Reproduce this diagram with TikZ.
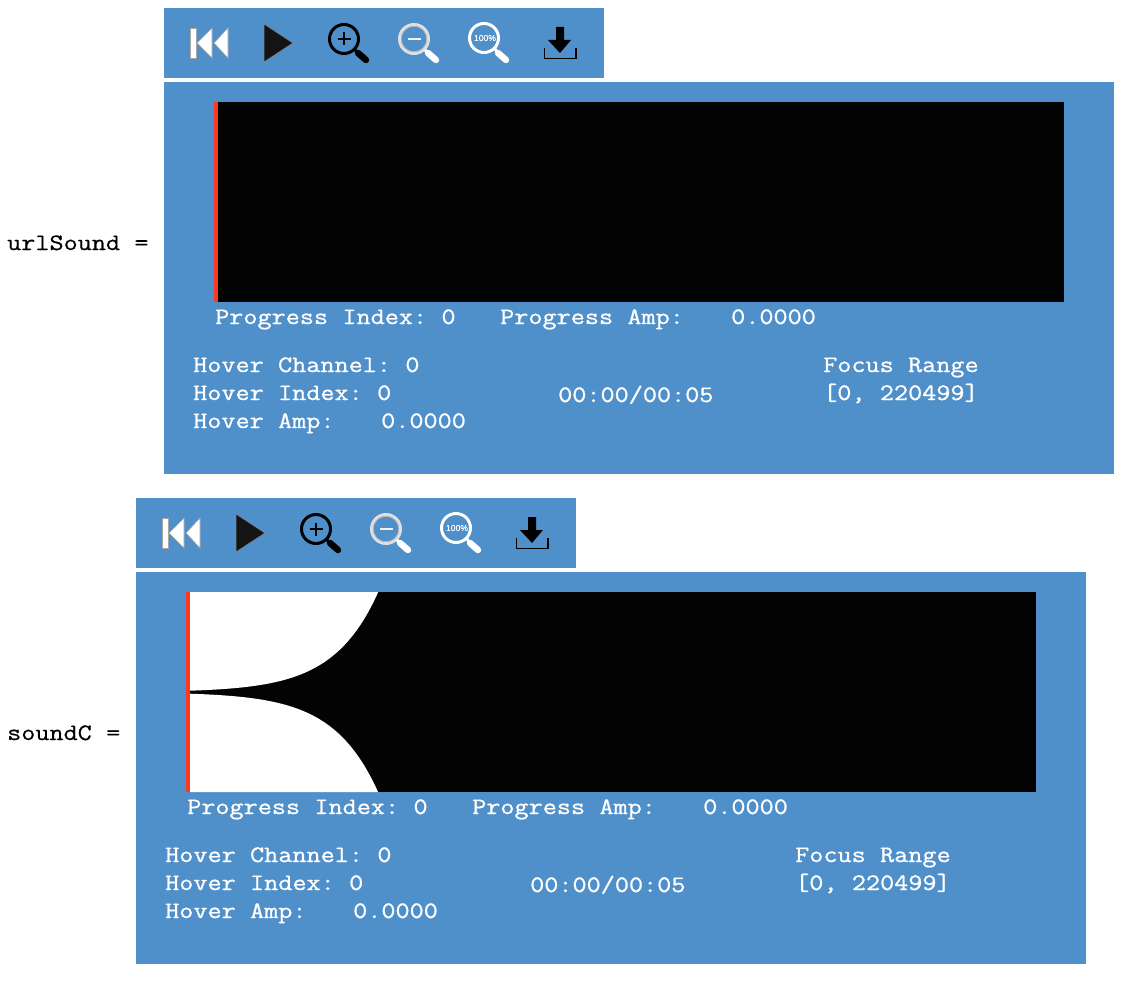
\documentclass[tikz,border=0pt]{standalone}
\usepackage{fontspec}
\definecolor{panelblue}{HTML}{4F8FCA}
\definecolor{scrubred}{HTML}{FA3A20}
\definecolor{wave}{HTML}{030303}
\newfontfamily\paneltext{Latin Modern Mono}[FakeBold=0.9]
\newfontfamily\labeltext{Latin Modern Mono}[FakeBold=0.5]
\newfontfamily\iconfont{Liberation Sans}[FakeBold=0.3]
\newcommand{\squash}[1]{\scalebox{1}[0.86]{\frenchspacing\spaceskip=14.38pt #1}}
\tikzset{
  panelbg/.style={fill=panelblue,draw=none},
  readout/.style={anchor=base west,inner sep=0pt,text=white,font=\paneltext\fontsize{27.4}{30}\selectfont},
  sidelabel/.style={anchor=base west,inner sep=0pt,text=black,font=\labeltext\fontsize{27.4}{30}\selectfont},
  whiteicon/.style={fill=white,draw=gray!70,line width=0.6pt},
  lens/.style={line width=3pt},
  handle/.style={line width=6.5pt,line cap=round},
}
\newcommand{\soundpanel}{%
  \fill[panelbg] (164,8) rectangle (604,78);
  \fill[panelbg] (164,82) rectangle (1114,474);
  % rewind
  \filldraw[whiteicon] (190,28) rectangle (196,58);
  \filldraw[whiteicon] (197,43) -- (212,28) -- (212,58) -- cycle;
  \filldraw[whiteicon] (214,43) -- (228,28) -- (228,58) -- cycle;
  % play
  \filldraw[fill=black!92,draw=gray!70!panelblue,line width=0.7pt] (264,24) -- (293,43) -- (264,62) -- cycle;
  % zoom in
  \draw[black,lens] (344,39) circle (14.5);
  \draw[black,line width=2.8pt] (337.5,39) -- (350.5,39) (344,32.5) -- (344,45.5);
  \draw[black,line width=3pt] (355,50) -- (358,53);
  \draw[black,handle] (358,53) -- (366,60);
  % zoom out
  \draw[gray!25,lens] (414,39) circle (14.5);
  \draw[gray!55,line width=0.8pt] (414,39) circle (12.8);
  \draw[white!90!gray,line width=2.8pt] (407.5,39) -- (420.5,39);
  \draw[white,line width=3pt] (425,50) -- (428,53);
  \draw[white,handle] (428,53) -- (436,60);
  % 100 percent
  \draw[white,lens] (484,38) circle (14.5);
  \node[inner sep=0pt,text=white,font=\iconfont\fontsize{8.6}{9}\selectfont] at (485,38) {100\%};
  \draw[white,line width=3pt] (495,49) -- (498,53);
  \draw[white,handle] (498,53) -- (506,60);
  % download
  \fill[black] (556,27) -- (564,27) -- (564,40) -- (571,40) -- (560,53) -- (548,40) -- (556,40) -- cycle;
  \draw[black,line width=1.8pt] (544.5,48) -- (544.5,58.5) -- (576,58.5) -- (576,48);
  % display
  \fill[wave] (214,102) rectangle (1064,302);
}
\newcommand{\soundtexts}[1]{%
  \node[readout] (#1pi) at (215,324) {\squash{Progress Index: 0}};
  \node[readout] (#1pa) at (500,324) {\squash{Progress Amp:}};
  \node[readout] (#1pv) at (731,324) {\squash{0.0000}};
  \node[readout] (#1hc) at (193,372) {\squash{Hover Channel: 0}};
  \node[readout] (#1hi) at (193,400) {\squash{Hover Index: 0}};
  \node[readout] (#1ha) at (193,428) {\squash{Hover Amp:}};
  \node[readout] (#1hv) at (381,428) {\squash{0.0000}};
  \node[readout] (#1tm) at (558,402) {\squash{00:00/00:05}};
  \node[readout] (#1fr) at (823,372) {\squash{Focus Range}};
  \node[readout] (#1fv) at (823,400) {\squash{[0, 220499]}};
}
\begin{document}
\begin{tikzpicture}[x=1pt,y=-1pt]
\useasboundingbox (0,0) rectangle (1134,982);
\fill[white] (0,0) rectangle (1134,982);
\node[sidelabel] (urllabel) at (7,250) {\squash{urlSound =}};
\node[sidelabel] (clabel) at (7,740) {\squash{soundC =}};
\begin{scope}
  \soundpanel
  \fill[scrubred] (214,102) rectangle (218,302);
  \soundtexts{a}
\end{scope}
\begin{scope}[shift={(-28,490)}]
  \soundpanel
  \fill[white] plot[domain=218:406,samples=80] (\x,{202.2-1.5*exp((\x-218)/44.8)}) -- (406,102) -- (218,102) -- cycle;
  \fill[white] plot[domain=218:406,samples=80] (\x,{202.2+1.5*exp((\x-218)/44.8)}) -- (406,302) -- (218,302) -- cycle;
  \fill[scrubred] (214,102) rectangle (218,302);
  \soundtexts{b}
\end{scope}
\end{tikzpicture}
\end{document}
